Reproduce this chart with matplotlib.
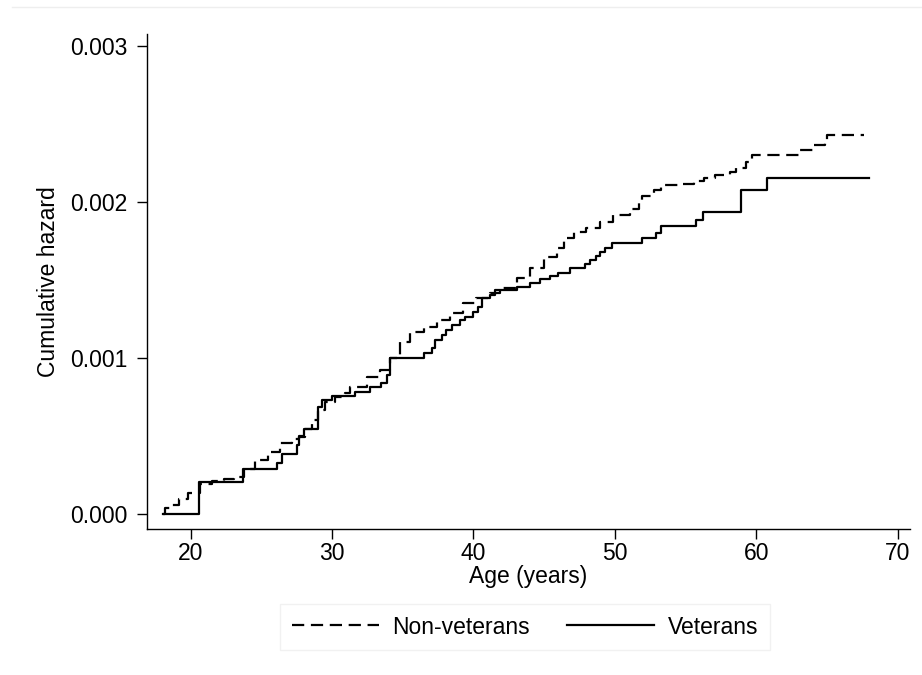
import matplotlib
matplotlib.use("Agg")
import matplotlib.pyplot as plt
from matplotlib.lines import Line2D
from matplotlib.ticker import FormatStrFormatter

plt.rcParams['font.family'] = ['Liberation Sans', 'DejaVu Sans']

# Nelson-Aalen cumulative hazard (step points, value after step, x1000)
vet_age = [18.07, 20.6, 23.7, 26.1, 26.5, 27.5, 27.7, 28.05, 29.04, 29.3, 30.0,
           31.6, 32.7, 33.5, 33.86, 34.1, 36.5, 37.1, 37.3, 37.8, 38.1, 38.5,
           39.06, 39.4, 40.0, 40.35, 40.6, 41.2, 41.5, 43.07, 44.0, 44.7, 45.4,
           46.0, 46.8, 47.9, 48.25, 48.7, 48.96, 49.3, 49.8, 51.9, 52.9, 53.3,
           55.75, 56.26, 58.9, 60.8, 68.0]
vet_haz = [0.0, 0.203, 0.287, 0.329, 0.385, 0.442, 0.5, 0.545, 0.688, 0.73, 0.756,
           0.784, 0.816, 0.842, 0.89, 1.0, 1.03, 1.064, 1.115, 1.147, 1.18, 1.21,
           1.244, 1.265, 1.297, 1.329, 1.383, 1.404, 1.436, 1.457, 1.479, 1.504, 1.526,
           1.547, 1.575, 1.603, 1.628, 1.654, 1.681, 1.703, 1.739, 1.771, 1.803, 1.846,
           1.885, 1.938, 2.077, 2.156, 2.156]

nonvet_age = [18.07, 18.2, 18.7, 19.2, 19.85, 20.67, 21.5, 22.4, 23.1, 23.77, 24.56,
              25.5, 26.3, 27.16, 27.7, 28.1, 28.57, 29.04, 29.5, 30.2, 30.9, 31.3,
              32.5, 33.4, 34.1, 34.8, 35.5, 36.5, 37.4, 38.35, 39.3, 40.2, 41.2,
              41.9, 43.1, 44.0, 45.0, 45.9, 46.4, 47.1, 48.0, 48.96, 49.9, 51.1,
              51.7, 51.9, 52.75, 53.3, 54.85, 55.6, 56.3, 57.1, 58.15, 58.6, 59.3,
              59.7, 63.1, 64.05, 64.9, 65.0, 67.6]
nonvet_haz = [0.0, 0.036, 0.06, 0.094, 0.133, 0.192, 0.212, 0.222, 0.239, 0.287, 0.346,
              0.40, 0.453, 0.479, 0.496, 0.543, 0.603, 0.667, 0.72, 0.752, 0.774, 0.816,
              0.88, 0.923, 0.998, 1.104, 1.169, 1.20, 1.244, 1.29, 1.35, 1.383, 1.415,
              1.447, 1.511, 1.575, 1.649, 1.703, 1.767, 1.81, 1.831, 1.874, 1.917, 1.953,
              1.992, 2.04, 2.077, 2.109, 2.115, 2.135, 2.156, 2.173, 2.195, 2.216, 2.258,
              2.301, 2.333, 2.365, 2.376, 2.43, 2.43]

x_ticks = [20, 30, 40, 50, 60, 70]
y_ticks = [0.0, 0.001, 0.002, 0.003]

W, H = 922, 675
fig = plt.figure(figsize=(W / 100, H / 100), dpi=100)
ax = fig.add_axes([147 / W, 1 - 529 / H, (910 - 147) / W, (529 - 34) / H])

fs = 16.5
ax.step(nonvet_age, [v / 1000 for v in nonvet_haz], where='post', color='black',
        lw=1.6, linestyle=(0, (5.5, 3)), label='Non-veterans')
ax.step(vet_age, [v / 1000 for v in vet_haz], where='post', color='black',
        lw=1.6, label='Veterans')

ax.set_xlim(16.92, 70.88)
ax.set_ylim(-0.0000962, 0.003077)
ax.set_xticks(x_ticks)
ax.set_yticks(y_ticks)
ax.yaxis.set_major_formatter(FormatStrFormatter('%.3f'))
ax.tick_params(axis='both', labelsize=fs, length=7, width=1, color='black')
ax.tick_params(axis='x', pad=2)
ax.tick_params(axis='y', pad=7)

for s in ['top', 'right']:
    ax.spines[s].set_visible(False)
for s in ['left', 'bottom']:
    ax.spines[s].set_linewidth(1)

ax.set_xlabel('Age (years)', fontsize=fs, labelpad=0)
ax.set_ylabel('Cumulative hazard', fontsize=fs, labelpad=7)

leg = fig.legend(loc='center', bbox_to_anchor=(525 / W, 1 - 627 / H), ncol=2,
                 fontsize=fs, frameon=True, fancybox=False, handlelength=3.8,
                 handletextpad=0.6, columnspacing=1.6, borderpad=0.5)
leg.get_frame().set_edgecolor('#eeeeee')
leg.get_frame().set_linewidth(1)

# faint line across the top of the graph region
fig.add_artist(Line2D([12 / W, 1], [1 - 7 / H, 1 - 7 / H], color='#eeeeee', lw=1))

fig.savefig('out.png', dpi=100)
